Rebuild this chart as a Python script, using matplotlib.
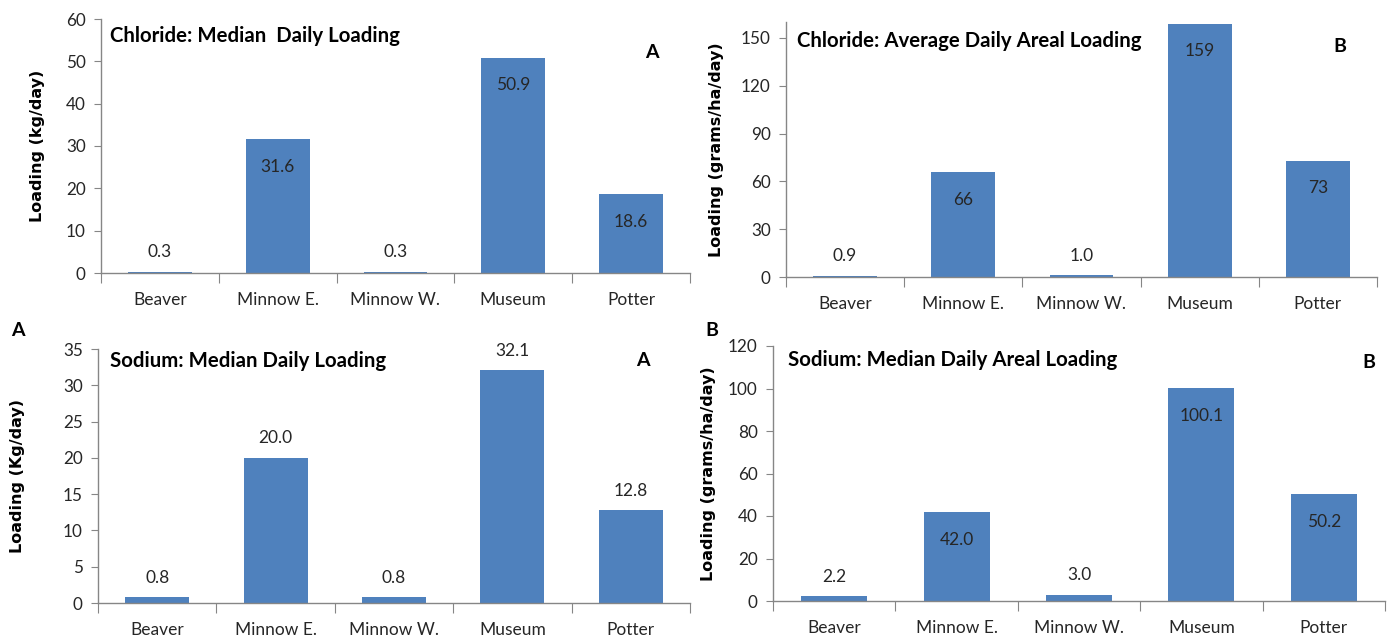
import matplotlib
matplotlib.use("Agg")
import matplotlib.pyplot as plt
import numpy as np

W, H = 1387, 640

sites = ["Beaver", "Minnow E.", "Minnow W.", "Museum", "Potter"]

cl_median = [0.3, 31.6, 0.3, 50.9, 18.6]
cl_areal = [0.9, 66, 1.0, 159, 73]
na_median = [0.8, 20.0, 0.8, 32.1, 12.8]
na_areal = [2.2, 42.0, 3.0, 100.1, 50.2]

cl_median_lbl = ["0.3", "31.6", "0.3", "50.9", "18.6"]
cl_areal_lbl = ["0.9", "66", "1.0", "159", "73"]
na_median_lbl = ["0.8", "20.0", "0.8", "32.1", "12.8"]
na_areal_lbl = ["2.2", "42.0", "3.0", "100.1", "50.2"]

BLUE = "#4F81BD"
AXC = "#868686"
TXT = "#262626"
plt.rcParams["font.family"] = ["Lato", "DejaVu Sans"]


def px_axes(fig, l, r, b, t):
    return fig.add_axes([l / W, 1 - b / H, (r - l) / W, (b - t) / H])


def panel(ax, vals, lbls, inside, ymax, step, ylabel, label_x):
    x = np.arange(len(vals))
    ax.bar(x, vals, width=0.54, color=BLUE, edgecolor="none")
    ax.set_xlim(-0.5, len(vals) - 0.5)
    ax.set_ylim(0, ymax)
    ax.set_yticks(np.arange(0, ymax + 0.01, step))
    ax.set_xticks(np.arange(-0.5, len(vals), 1.0))
    ax.set_xticklabels([])
    ax.set_xticks(x, minor=True)
    ax.set_xticklabels(sites, minor=True, fontsize=12.5, color=TXT)
    ax.tick_params(axis="x", which="major", length=7, color=AXC, direction="out")
    ax.tick_params(axis="x", which="minor", length=0, pad=14)
    ax.tick_params(axis="y", length=5, color=AXC, labelsize=12.3,
                   labelcolor=TXT, pad=6)
    for s in ["top", "right"]:
        ax.spines[s].set_visible(False)
    for s in ["left", "bottom"]:
        ax.spines[s].set_color(AXC)
        ax.spines[s].set_linewidth(1.0)
    ax.set_ylabel(ylabel, fontsize=11.5, fontweight="bold",
                  family="DejaVu Sans", va="center")
    # label centre given in figure pixels
    bb = ax.get_position()
    ax.yaxis.set_label_coords((label_x / W - bb.x0) / bb.width, 0.5)
    for i, (v, t) in enumerate(zip(vals, lbls)):
        off = -20 if inside[i] else 14
        ax.annotate(t, (i, v), xytext=(0, off), textcoords="offset points",
                    ha="center", va="center", fontsize=12.5, color=TXT)


fig = plt.figure(figsize=(W / 100, H / 100), dpi=100)

ax1 = px_axes(fig, 101, 690, 273, 19)
panel(ax1, cl_median, cl_median_lbl, [0, 1, 0, 1, 1], 60, 10,
      "Loading (kg/day)", 38)
ax2 = px_axes(fig, 786, 1377, 277, 22)
panel(ax2, cl_areal, cl_areal_lbl, [0, 1, 0, 1, 1], 160, 30,
      "Loading (grams/ha/day)", 716)
ax3 = px_axes(fig, 98, 690, 603, 349)
panel(ax3, na_median, na_median_lbl, [0, 0, 0, 0, 0], 35, 5,
      "Loading (Kg/day)", 18)
ax4 = px_axes(fig, 773, 1385, 601, 346)
panel(ax4, na_areal, na_areal_lbl, [0, 1, 0, 1, 1], 120, 20,
      "Loading (grams/ha/day)", 709)

# titles and panel letters
notes = [
    (110, 36, "Chloride: Median  Daily Loading", "left", 14.7),
    (797, 41, "Chloride: Average Daily Areal Loading", "left", 14.7),
    (110, 361, "Sodium: Median Daily Loading", "left", 14.7),
    (788, 360, "Sodium: Median Daily Areal Loading", "left", 14.7),
    (652, 52, "A", "center", 14),
    (1340, 47, "B", "center", 14),
    (643, 361, "A", "center", 14),
    (1369, 363, "B", "center", 14),
    (18, 330, "A", "center", 14),
    (712, 330, "B", "center", 14),
]
for x, y, s, ha, fs in notes:
    fig.text(x / W, 1 - y / H, s, ha=ha, va="center", fontsize=fs,
             fontweight="bold", color="black")

fig.savefig("out.png", dpi=100)
